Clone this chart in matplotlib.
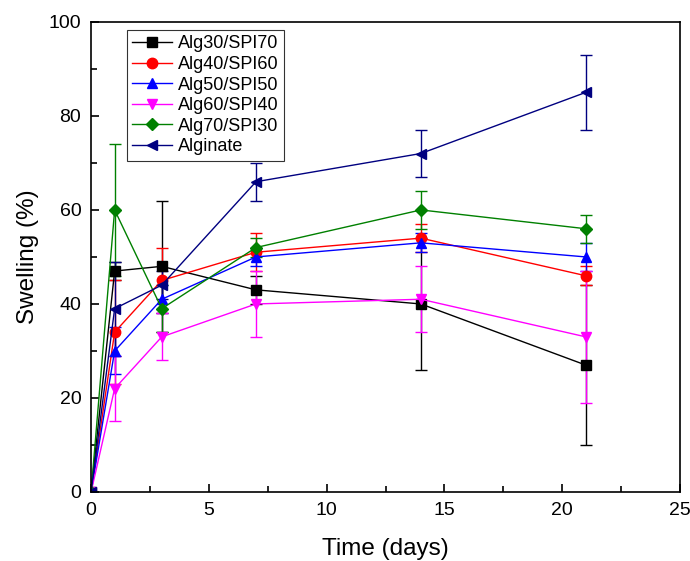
import matplotlib
matplotlib.use("Agg")
import matplotlib.pyplot as plt
from matplotlib.ticker import MultipleLocator

plt.rcParams['font.family'] = ['Liberation Sans', 'DejaVu Sans']

# sampling days
days = [0, 1, 3, 7, 14, 21]

# swelling (%) per formulation, with error bars
alg30_spi70 = [0, 47, 48, 43, 40, 27]
alg30_err = [0, 2, 14, 3, 14, 17]
alg40_spi60 = [0, 34, 45, 51, 54, 46]
alg40_err = [0, 11, 7, 4, 3, 2]
alg50_spi50 = [0, 30, 41, 50, 53, 50]
alg50_err = [0, 5, 3, 2, 2, 3]
alg60_spi40 = [0, 22, 33, 40, 41, 33]
alg60_err = [0, 7, 5, 7, 7, 14]
alg70_spi30 = [0, 60, 39, 52, 60, 56]
alg70_err = [0, 14, 5, 2, 4, 3]
alginate = [0, 39, 44, 66, 72, 85]
alginate_err = [0, 10, 3, 4, 5, 8]

series = [
    ("Alg30/SPI70", alg30_spi70, alg30_err, 'black', 's'),
    ("Alg40/SPI60", alg40_spi60, alg40_err, 'red', 'o'),
    ("Alg50/SPI50", alg50_spi50, alg50_err, 'blue', '^'),
    ("Alg60/SPI40", alg60_spi40, alg60_err, 'magenta', 'v'),
    ("Alg70/SPI30", alg70_spi30, alg70_err, 'green', 'D'),
    ("Alginate", alginate, alginate_err, 'navy', '<'),
]

fig = plt.figure(figsize=(6.9, 5.61), dpi=100)
ax = fig.add_axes([0.132, 0.123, 0.8535, 0.838])

for name, vals, err, color, marker in series:
    ms = 6.5 if marker == 'D' else 7.5
    ax.errorbar(days, vals, yerr=err, color=color, lw=1, elinewidth=1,
                capsize=4, capthick=1, marker=marker, ms=ms,
                markeredgecolor=color, label=name)

ax.set_xlim(0, 25)
ax.set_ylim(0, 100)
ax.xaxis.set_major_locator(MultipleLocator(5))
ax.xaxis.set_minor_locator(MultipleLocator(2.5))
ax.yaxis.set_major_locator(MultipleLocator(20))
ax.yaxis.set_minor_locator(MultipleLocator(10))
ax.tick_params(which='both', direction='in', labelsize=14, width=1.2, pad=7)
ax.tick_params(which='major', length=6)
ax.tick_params(which='minor', length=4)
for sp in ax.spines.values():
    sp.set_linewidth(1.2)

ax.set_xlabel("Time (days)", fontsize=17.5, labelpad=14)
ax.set_ylabel("Swelling (%)", fontsize=17.5, labelpad=7)

handles, labels = ax.get_legend_handles_labels()
handles = [h[0] for h in handles]
leg = ax.legend(handles, labels, loc='upper left', bbox_to_anchor=(0.061, 0.983),
                fontsize=13, frameon=True, fancybox=False, edgecolor='black',
                handlelength=2.2, borderpad=0.3, labelspacing=0.2,
                handletextpad=0.3, borderaxespad=0)
leg.get_frame().set_linewidth(0.8)

fig.savefig("out.png", dpi=100)
